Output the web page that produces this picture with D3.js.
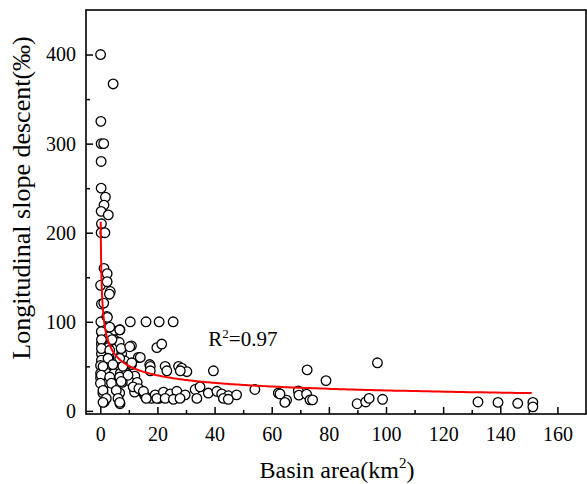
<!DOCTYPE html>
<html>
<head>
<meta charset="utf-8">
<script src="https://cdn.jsdelivr.net/npm/d3@7"></script>
<style>
  html, body { margin: 0; padding: 0; background: #fff; }
  svg { display: block; font-family: "Liberation Serif", "Times New Roman", serif; }
</style>
</head>
<body>
<svg id="chart" width="587" height="484"></svg>
<script>
// ---- data ----
const basinArea = [
  0.1, 4.5, 0.2, 0.3, 1.2, 0.3, 0.3, 1.8, 1.3, 0.3, 2.8, 0.4, 0.3, 1.6,
  1.3, 2.4, 0.1, 2.4, 3.5, 3.2, 0.4, 1.2, 0.2, 2.3,
  10.5, 16, 20.6, 25.5,
  2.5, 4.5, 6.9, 0.7, 2.8, 4.9, 0.4, 6.6, 2.8, 10.9, 19.8, 21.5, 0.4, 7.5, 3, 13.3,
  0.4, 8.6, 0.1, 2.4, 5.3, 10.9, 8, 17.3, 0.1, 2.4, 4.8, 7, 9.2, 12.1, 0.1, 6.6,
  10, 0.5, 2.8, 7.7, 12.9, 14.4, 15.6, 17.9, 0.9, 6.8, 12, 20.5, 1.4, 6.9,
  0.35, 3.3, 6.8, 0.4, 4.1, 0.4, 3.3, 7.3, 2.7, 6.8, 10.3, 0.95, 4.4, 7.9, 11,
  0.35, 3.3, 6.8, 9.7, 0.05, 3.9, 7.3, 0.95, 5.6, 2.1, 6.2, 0.95, 6.8, 11.5, 13.5,
  14, 17.5, 22.7, 27.4, 28.5, 30.3, 17.5, 23.3, 28, 39.6,
  15.1, 19.2, 22.1, 24.5, 26.8, 29.7, 33.2, 37.8, 40.8, 42.5, 44.8, 47.7, 54.1,
  16.1, 19.8, 22.7, 25.6, 27.9, 33.8, 43.1, 44.8, 34.9,
  62.3, 65.2, 62.9, 64.6, 69.3, 69.5, 72.4, 72.2, 73.4, 74.3, 79, 89.9, 92.9, 94.1,
  97, 98.8, 132.2, 139.2, 146.1, 151.4, 151.4
];
const slopeDescent = [
  400, 367, 325, 300, 300, 280, 250, 240, 231, 224, 220, 210, 200, 200,
  160, 154, 141, 145, 134, 131, 120, 121, 100, 106,
  100, 100, 100, 100,
  105, 90, 91, 87, 83, 80, 75, 77, 71, 73, 71, 75, 64, 64, 60, 60,
  57, 56, 51, 51, 51, 52, 47, 52, 42, 42, 42, 42, 42, 39, 37, 37,
  34, 32, 32, 32, 32, 22, 17, 14, 20, 20, 21, 14, 10, 8,
  89, 94, 91, 80, 80, 70, 68, 70, 59, 59, 72, 50, 52, 50, 54,
  40, 38, 38, 40, 31, 31, 33, 23, 23, 14, 14, 9.6, 9.6, 27, 25,
  60, 50, 50, 50, 48, 44, 45, 45, 45, 45,
  22, 18, 21, 19, 22, 18, 24, 20, 22, 19, 17, 18, 24,
  14, 14, 14, 13, 14, 14, 14, 13, 27,
  20, 12, 19, 9.5, 22.5, 17.7, 46, 18.7, 12.4, 12.4, 34, 8, 10, 14,
  54, 13, 10, 9.5, 8.5, 9.5, 4.5
];
// power-law fit  y = a * x^b  (R^2 = 0.97)
const fitCoef = [111, -0.342];
const fitRange = [0.15, 151];
const xTicks = [0, 20, 40, 60, 80, 100, 120, 140, 160];
const xMinor = [10, 30, 50, 70, 90, 110, 130, 150];
const yTicks = [0, 100, 200, 300, 400];
const yMinor = [50, 150, 250, 350];

// ---- layout ----
const svg = d3.select("#chart");
const L = 86, R = 586, T = 10, B = 414;
const x = d3.scaleLinear().domain([-5, 170]).range([L, R]);
const y = d3.scaleLinear().domain([-3.5, 450]).range([B, T]);

const pts = basinArea.map((v, i) => [v, slopeDescent[i]]);

// points
svg.append("g").selectAll("circle").data(pts).join("circle")
  .attr("cx", d => x(d[0])).attr("cy", d => y(d[1])).attr("r", 4.8)
  .attr("fill", "#fff").attr("stroke", "#000").attr("stroke-width", 1.3);

// fit curve
const fitXs = d3.range(0, 401).map(i => fitRange[0] * Math.pow(fitRange[1] / fitRange[0], i / 400));
const line = d3.line().x(d => x(d)).y(d => y(fitCoef[0] * Math.pow(d, fitCoef[1])));
svg.append("path").datum(fitXs).attr("d", line)
  .attr("fill", "none").attr("stroke", "#ff0000").attr("stroke-width", 2);

// axes
const fs = 20;
const gx = svg.append("g").attr("transform", `translate(0,${B})`)
  .call(d3.axisBottom(x).tickValues(xTicks).tickSize(-7).tickPadding(13).tickFormat(d3.format("d")));
const gxm = svg.append("g").attr("transform", `translate(0,${B})`)
  .call(d3.axisBottom(x).tickValues(xMinor).tickSize(-4).tickFormat(""));
const gy = svg.append("g").attr("transform", `translate(${L},0)`)
  .call(d3.axisLeft(y).tickValues(yTicks).tickSize(-7).tickPadding(10).tickFormat(d3.format("d")));
const gym = svg.append("g").attr("transform", `translate(${L},0)`)
  .call(d3.axisLeft(y).tickValues(yMinor).tickSize(-4).tickFormat(""));
[gx, gxm, gy, gym].forEach(g => {
  g.select(".domain").remove();
  g.selectAll("line").attr("stroke", "#000").attr("stroke-width", 1.5);
  g.selectAll("text").attr("font-size", fs).attr("fill", "#000")
    .attr("font-family", "Liberation Serif, Times New Roman, serif");
});

// frame
svg.append("rect").attr("x", L).attr("y", T).attr("width", R - L).attr("height", B - T)
  .attr("fill", "none").attr("stroke", "#000").attr("stroke-width", 1.6);

// R^2 label
const r2 = svg.append("text").attr("x", x(37.8)).attr("y", y(73)).attr("font-size", 21);
r2.append("tspan").text("R");
r2.append("tspan").attr("dy", -8).attr("font-size", 13).text("2");
r2.append("tspan").attr("dy", 8).text("=0.97");

// axis titles
const xt = svg.append("text").attr("x", 337).attr("y", 478)
  .attr("text-anchor", "middle").attr("font-size", 24);
xt.append("tspan").text("Basin area(km");
xt.append("tspan").attr("dy", -10).attr("font-size", 15).text("2");
xt.append("tspan").attr("dy", 10).text(")");

svg.append("text").attr("transform", "translate(30,198) rotate(-90)")
  .attr("text-anchor", "middle").attr("font-size", 26)
  .text("Longitudinal slope descent(‰)");
</script>
</body>
</html>
